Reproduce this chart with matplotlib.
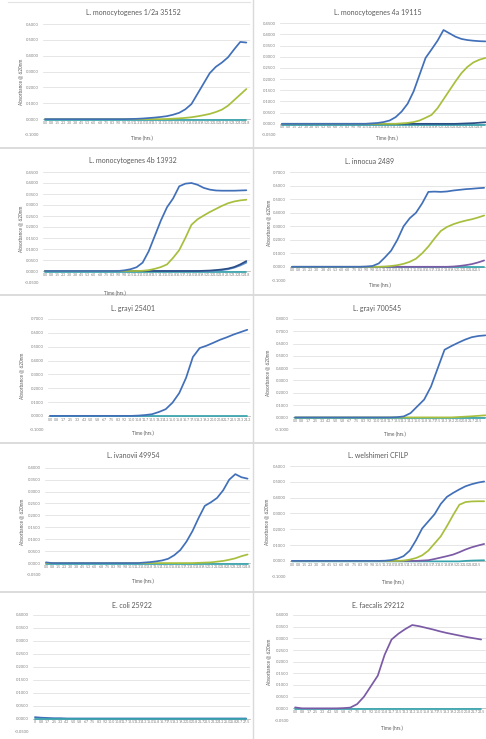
"""Growth curves (absorbance @ 620nm) for ten strains, laid out as a 5x2 grid."""

import matplotlib

matplotlib.use("Agg")
import matplotlib.pyplot as plt
import numpy as np
from matplotlib.lines import Line2D

plt.rcParams["font.family"] = ["Lato", "DejaVu Sans"]

W, H = 486, 739

# category labels (time points)
HRS_45 = ["0.0", "0.8", "1.5", "2.3", "3.0", "3.8", "4.5", "5.3", "6.0", "6.8",
          "7.5", "8.3", "9.0", "9.8", "10.5", "11.3", "12.0", "12.8", "13.5", "14.3",
          "15.0", "15.8", "16.5", "17.3", "18.0", "18.8", "19.5", "20.3", "21.0", "21.8",
          "22.5", "23.3", "24.0", "24.8", "25.5"]
HRS_50 = ["0.0", "0.8", "1.7", "2.5", "3.3", "4.2", "5.0", "5.8", "6.7", "7.5",
          "8.3", "9.2", "10.0", "10.8", "11.7", "12.5", "13.3", "14.2", "15.0", "15.8",
          "16.7", "17.5", "18.3", "19.2", "20.0", "20.8", "21.7", "22.5", "23.3", "24.2"]
HRS_ECOLI = ["0", "0.8", "1.7", "2.5", "3.3", "4.2", "5.0", "5.8", "6.7", "7.5",
             "8.3", "9.2", "10.0", "10.8", "11.7", "12.5", "13.3", "14.2", "15.0", "15.8",
             "16.7", "17.5", "18.3", "19.2", "20.0", "20.8", "21.7", "22.5", "23.3", "24.2",
             "25.0", "25.8", "26.7", "27.5"]

# L. monocytogenes 1/2a 35152
LM12A_BLUE = [0.000, 0.000, 0.000, 0.000, 0.000, 0.000, 0.000, 0.000, 0.000, 0.000,
              0.000, 0.000, 0.000, 0.000, 0.001, 0.002, 0.004, 0.007, 0.010, 0.014,
              0.019, 0.028, 0.040, 0.062, 0.095, 0.160, 0.225, 0.290, 0.330, 0.357,
              0.390, 0.440, 0.487, 0.483]
LM12A_GREEN = [0.000, 0.000, 0.000, 0.000, 0.000, 0.000, 0.000, 0.000, 0.000, 0.000,
               0.000, 0.000, 0.000, 0.000, 0.000, 0.000, 0.000, 0.000, 0.000, 0.000,
               0.001, 0.003, 0.005, 0.008, 0.012, 0.018, 0.025, 0.033, 0.045, 0.060,
               0.085, 0.120, 0.155, 0.190]
LM12A_TEAL = [-0.004, -0.004, -0.004, -0.004, -0.004, -0.004, -0.004, -0.004, -0.004, -0.004,
              -0.004, -0.004, -0.004, -0.004, -0.004, -0.004, -0.004, -0.004, -0.004, -0.004,
              -0.004, -0.004, -0.004, -0.004, -0.004, -0.004, -0.004, -0.004, -0.004, -0.004,
              -0.004, -0.004, -0.004, -0.004]

# L. monocytogenes 4a 19115
LM4A_BLUE = [0.000, 0.000, 0.000, 0.000, 0.000, 0.000, 0.000, 0.000, 0.000, 0.000,
             0.000, 0.000, 0.000, 0.000, 0.000, 0.002, 0.004, 0.008, 0.015, 0.030,
             0.055, 0.090, 0.145, 0.220, 0.295, 0.333, 0.372, 0.420, 0.405, 0.390,
             0.380, 0.375, 0.372, 0.370, 0.369]
LM4A_GREEN = [0.000, 0.000, 0.000, 0.000, 0.000, 0.000, 0.000, 0.000, 0.000, 0.000,
              0.000, 0.000, 0.000, 0.000, 0.000, 0.000, 0.000, 0.000, 0.000, 0.000,
              0.002, 0.004, 0.008, 0.015, 0.027, 0.040, 0.070, 0.110, 0.150, 0.190,
              0.227, 0.255, 0.275, 0.287, 0.295]
LM4A_NAVY = [0.000, 0.000, 0.000, 0.000, 0.000, 0.000, 0.000, 0.000, 0.000, 0.000,
             0.000, 0.000, 0.000, 0.000, 0.000, 0.000, 0.000, 0.000, 0.000, 0.000,
             0.000, 0.000, 0.000, 0.000, 0.000, 0.000, 0.000, 0.000, 0.000, 0.000,
             0.001, 0.002, 0.003, 0.005, 0.007]
LM4A_TEAL = [-0.003, -0.003, -0.003, -0.003, -0.003, -0.003, -0.003, -0.003, -0.003, -0.003,
             -0.003, -0.003, -0.003, -0.003, -0.003, -0.003, -0.003, -0.003, -0.003, -0.003,
             -0.003, -0.003, -0.003, -0.003, -0.003, -0.003, -0.003, -0.003, -0.003, -0.003,
             -0.003, -0.003, -0.003, -0.003, -0.003]

# L. monocytogenes 4b 13932
LM4B_BLUE = [0.000, 0.000, 0.000, 0.000, 0.000, 0.000, 0.000, 0.000, 0.000, 0.000,
             0.000, 0.000, 0.000, 0.003, 0.008, 0.017, 0.038, 0.090, 0.160, 0.230,
             0.290, 0.330, 0.385, 0.397, 0.400, 0.392, 0.378, 0.370, 0.366, 0.365,
             0.365, 0.365, 0.366, 0.367]
LM4B_GREEN = [0.000, 0.000, 0.000, 0.000, 0.000, 0.000, 0.000, 0.000, 0.000, 0.000,
              0.000, 0.000, 0.000, 0.000, 0.000, 0.000, 0.001, 0.004, 0.010, 0.018,
              0.030, 0.060, 0.095, 0.150, 0.210, 0.235, 0.252, 0.268, 0.282, 0.296,
              0.308, 0.316, 0.321, 0.324]
LM4B_NAVY = [0.000, 0.000, 0.000, 0.000, 0.000, 0.000, 0.000, 0.000, 0.000, 0.000,
             0.000, 0.000, 0.000, 0.000, 0.000, 0.000, 0.000, 0.000, 0.000, 0.000,
             0.000, 0.000, 0.000, 0.000, 0.000, 0.000, 0.001, 0.002, 0.004, 0.007,
             0.011, 0.018, 0.030, 0.045]
LM4B_SKY = [0.000, 0.000, 0.000, 0.000, 0.000, 0.000, 0.000, 0.000, 0.000, 0.000,
            0.000, 0.000, 0.000, 0.000, 0.000, 0.000, 0.000, 0.000, 0.000, 0.000,
            0.000, 0.000, 0.000, 0.000, 0.000, 0.000, 0.000, 0.000, 0.002, 0.004,
            0.008, 0.015, 0.025, 0.038]
LM4B_TEAL = [-0.003, -0.003, -0.003, -0.003, -0.003, -0.003, -0.003, -0.003, -0.003, -0.003,
             -0.003, -0.003, -0.003, -0.003, -0.003, -0.003, -0.003, -0.003, -0.003, -0.003,
             -0.003, -0.003, -0.003, -0.003, -0.003, -0.003, -0.003, -0.003, -0.003, -0.003,
             -0.003, -0.003, -0.003, -0.003]

# L. innocua 2489
LINN_BLUE = [0.000, 0.000, 0.000, 0.000, 0.000, 0.000, 0.000, 0.000, 0.000, 0.000,
             0.000, 0.000, 0.002, 0.006, 0.025, 0.070, 0.120, 0.200, 0.300, 0.360,
             0.400, 0.470, 0.555, 0.557, 0.555, 0.558, 0.565, 0.570, 0.575, 0.578,
             0.582, 0.585]
LINN_GREEN = [0.000, 0.000, 0.000, 0.000, 0.000, 0.000, 0.000, 0.000, 0.000, 0.000,
              0.000, 0.000, 0.000, 0.000, 0.000, 0.002, 0.006, 0.012, 0.022, 0.037,
              0.060, 0.100, 0.150, 0.210, 0.265, 0.295, 0.315, 0.330, 0.342, 0.352,
              0.365, 0.380]
LINN_PURPLE = [0.000, 0.000, 0.000, 0.000, 0.000, 0.000, 0.000, 0.000, 0.000, 0.000,
               0.000, 0.000, 0.000, 0.000, 0.000, 0.000, 0.000, 0.000, 0.000, 0.000,
               0.000, 0.000, 0.000, 0.000, 0.000, 0.000, 0.002, 0.006, 0.012, 0.020,
               0.032, 0.047]
LINN_TEAL = [-0.004, -0.004, -0.004, -0.004, -0.004, -0.004, -0.004, -0.004, -0.004, -0.004,
             -0.004, -0.004, -0.004, -0.004, -0.004, -0.004, -0.004, -0.004, -0.004, -0.004,
             -0.004, -0.004, -0.004, -0.004, -0.004, -0.004, -0.004, -0.004, -0.004, -0.004,
             -0.004, -0.004]

# L. grayi 25401
LG25_BLUE = [0.000, 0.000, 0.000, 0.000, 0.000, 0.000, 0.000, 0.000, 0.000, 0.000,
             0.000, 0.000, 0.000, 0.002, 0.006, 0.012, 0.028, 0.048, 0.095, 0.165,
             0.275, 0.425, 0.490, 0.507, 0.528, 0.550, 0.568, 0.588, 0.605, 0.622]
LG25_TEAL = [-0.003, -0.003, -0.003, -0.003, -0.003, -0.003, -0.003, -0.003, -0.003, -0.003,
             -0.003, -0.003, -0.003, -0.003, -0.003, -0.003, -0.003, -0.003, -0.003, -0.003,
             -0.003, -0.003, -0.003, -0.003, -0.003, -0.003, -0.003, -0.003, -0.003, -0.003]

# L. grayi 700545
LG70_BLUE = [0.000, 0.000, 0.000, 0.000, 0.000, 0.000, 0.000, 0.000, 0.000, 0.000,
             0.000, 0.000, 0.000, 0.000, 0.000, 0.002, 0.008, 0.035, 0.090, 0.145,
             0.250, 0.400, 0.550, 0.580, 0.607, 0.632, 0.652, 0.662, 0.667]
LG70_GREEN = [0.000, 0.000, 0.000, 0.000, 0.000, 0.000, 0.000, 0.000, 0.000, 0.000,
              0.000, 0.000, 0.000, 0.000, 0.000, 0.000, 0.000, 0.000, 0.000, 0.000,
              0.000, 0.000, 0.000, 0.000, 0.003, 0.006, 0.009, 0.013, 0.017]
LG70_TEAL = [-0.003, -0.003, -0.003, -0.003, -0.003, -0.003, -0.003, -0.003, -0.003, -0.003,
             -0.003, -0.003, -0.003, -0.003, -0.003, -0.003, -0.003, -0.003, -0.003, -0.003,
             -0.003, -0.003, -0.003, -0.003, -0.003, -0.003, -0.003, -0.003, -0.003]

# L. ivanovii 49954
LIV_BLUE = [0.003, 0.000, 0.000, 0.000, 0.000, 0.000, 0.000, 0.000, 0.000, 0.000,
            0.000, 0.000, 0.000, 0.000, 0.000, 0.000, 0.002, 0.004, 0.007, 0.011,
            0.018, 0.033, 0.055, 0.090, 0.135, 0.190, 0.240, 0.255, 0.273, 0.305,
            0.350, 0.373, 0.360, 0.354]
LIV_GREEN = [0.000, 0.000, 0.000, 0.000, 0.000, 0.000, 0.000, 0.000, 0.000, 0.000,
             0.000, 0.000, 0.000, 0.000, 0.000, 0.000, 0.000, 0.000, 0.000, 0.000,
             0.000, 0.000, 0.000, 0.000, 0.000, 0.001, 0.002, 0.003, 0.006, 0.009,
             0.014, 0.020, 0.029, 0.036]
LIV_TEAL = [-0.003, -0.003, -0.003, -0.003, -0.003, -0.003, -0.003, -0.003, -0.003, -0.003,
            -0.003, -0.003, -0.003, -0.003, -0.003, -0.003, -0.003, -0.003, -0.003, -0.003,
            -0.003, -0.003, -0.003, -0.003, -0.003, -0.003, -0.003, -0.003, -0.003, -0.003,
            -0.003, -0.003, -0.003, -0.003]

# L. welshimeri CFILP
LW_BLUE = [0.000, 0.000, 0.000, 0.000, 0.000, 0.000, 0.000, 0.000, 0.000, 0.000,
           0.000, 0.000, 0.000, 0.000, 0.000, 0.001, 0.005, 0.014, 0.030, 0.065,
           0.130, 0.205, 0.250, 0.295, 0.360, 0.405, 0.430, 0.452, 0.472, 0.485,
           0.495, 0.502]
LW_GREEN = [0.000, 0.000, 0.000, 0.000, 0.000, 0.000, 0.000, 0.000, 0.000, 0.000,
            0.000, 0.000, 0.000, 0.000, 0.000, 0.000, 0.000, 0.000, 0.002, 0.008,
            0.018, 0.035, 0.065, 0.110, 0.155, 0.220, 0.290, 0.355, 0.372, 0.376,
            0.377, 0.377]
LW_PURPLE = [0.000, 0.000, 0.000, 0.000, 0.000, 0.000, 0.000, 0.000, 0.000, 0.000,
             0.000, 0.000, 0.000, 0.000, 0.000, 0.000, 0.000, 0.000, 0.000, 0.000,
             0.000, 0.002, 0.004, 0.012, 0.021, 0.030, 0.040, 0.055, 0.072, 0.086,
             0.097, 0.107]
LW_TEAL = [-0.003, -0.003, -0.003, -0.003, -0.003, -0.003, -0.003, -0.003, -0.003, -0.003,
           -0.003, -0.003, -0.003, -0.003, -0.003, -0.003, -0.003, -0.003, -0.003, -0.003,
           -0.003, -0.003, -0.003, -0.003, -0.003, -0.003, -0.003, -0.003, 0.000, 0.002,
           0.003, 0.004]

# E. coli 25922
EC_BLUE = [0.006, 0.004, 0.003, 0.002, 0.002, 0.001, 0.001, 0.001, 0.001, 0.001,
           0.001, 0.001, 0.001, 0.001, 0.001, 0.001, 0.001, 0.001, 0.001, 0.001,
           0.001, 0.001, 0.001, 0.001, 0.001, 0.001, 0.001, 0.001, 0.001, 0.001,
           0.001, 0.001, 0.001, 0.001]
EC_TEAL = [-0.002, -0.002, -0.002, -0.002, -0.002, -0.002, -0.002, -0.002, -0.002, -0.002,
           -0.002, -0.002, -0.002, -0.002, -0.002, -0.002, -0.002, -0.002, -0.002, -0.002,
           -0.002, -0.002, -0.002, -0.002, -0.002, -0.002, -0.002, -0.002, -0.002, -0.002,
           -0.002, -0.002, -0.002, -0.002]

# E. faecalis 29212
EF_PURPLE = [0.004, 0.000, 0.000, 0.000, 0.000, 0.000, 0.000, 0.001, 0.003, 0.018,
             0.050, 0.095, 0.140, 0.230, 0.295, 0.320, 0.340, 0.357, 0.352, 0.345,
             0.338, 0.330, 0.323, 0.317, 0.311, 0.305, 0.300, 0.295]
EF_TEAL = [-0.002, -0.002, -0.002, -0.002, -0.002, -0.002, -0.002, -0.002, -0.002, -0.002,
           -0.002, -0.002, -0.002, -0.002, -0.002, -0.002, -0.002, -0.002, -0.002, -0.002,
           -0.002, -0.002, -0.002, -0.002, -0.002, -0.002, -0.002, -0.002]

BLUE = "#4170B9"
GREEN = "#A7BF3D"
PURPLE = "#7B5BA5"
TEAL = "#36A3AC"
NAVY = "#2C4E86"
SKY = "#5F90D0"
TXT = "#595959"
TICK = "#7F7F7F"
GRID = "#DCDCDC"

YLABEL = "Absorbance @ 620nm"
XLABEL = "Time (hrs.)"

# layout in pixels: box = (left, right, top, bottom) of the plot area
PANELS = [
    dict(title="L. monocytogenes 1/2a 35152", cats=HRS_45, ylim=(-0.1, 0.6, 0.1),
         box=(43, 250, 24, 135), xlim=(-0.33, 33.6), title_xy=(133, 13),
         ylab_xy=(21, 82), xlab_xy=(142, 138),
         series=[(LM12A_TEAL, TEAL), (LM12A_GREEN, GREEN), (LM12A_BLUE, BLUE)]),
    dict(title="L. monocytogenes 4a 19115", cats=HRS_45, ylim=(-0.05, 0.45, 0.05),
         box=(280, 486, 23.3, 135), xlim=(-0.33, 34.1), title_xy=(378, 13),
         ylab_xy=None, xlab_xy=(387, 138),
         series=[(LM4A_TEAL, TEAL), (LM4A_NAVY, NAVY), (LM4A_GREEN, GREEN), (LM4A_BLUE, BLUE)]),
    dict(title="L. monocytogenes 4b 13932", cats=HRS_45, ylim=(-0.05, 0.45, 0.05),
         box=(43, 250, 172, 282), xlim=(-0.33, 33.6), title_xy=(133, 161),
         ylab_xy=(21, 229), xlab_xy=(115, 293),
         series=[(LM4B_TEAL, TEAL), (LM4B_SKY, SKY), (LM4B_NAVY, NAVY),
                 (LM4B_GREEN, GREEN), (LM4B_BLUE, BLUE)]),
    dict(title="L. innocua 2489", cats=HRS_45, ylim=(-0.1, 0.7, 0.1),
         box=(290, 486, 172.3, 280.3), xlim=(-0.32, 31.3), title_xy=(370, 161),
         ylab_xy=(269, 223), xlab_xy=(380, 285),
         series=[(LINN_TEAL, TEAL), (LINN_PURPLE, PURPLE), (LINN_GREEN, GREEN), (LINN_BLUE, BLUE)]),
    dict(title="L. grayi 25401", cats=HRS_50, ylim=(-0.1, 0.7, 0.1),
         box=(48, 250, 319, 429.7), xlim=(-0.3, 29.4), title_xy=(133, 308),
         ylab_xy=(22, 376), xlab_xy=(143, 433),
         series=[(LG25_TEAL, TEAL), (LG25_BLUE, BLUE)]),
    dict(title="L. grayi 700545", cats=HRS_50, ylim=(-0.1, 0.8, 0.1),
         box=(293, 486, 319, 429.7), xlim=(-0.3, 28.1), title_xy=(377, 308),
         ylab_xy=(268, 373), xlab_xy=(395, 434),
         series=[(LG70_TEAL, TEAL), (LG70_GREEN, GREEN), (LG70_BLUE, BLUE)]),
    dict(title="L. ivanovii 49954", cats=HRS_45, ylim=(-0.05, 0.4, 0.05),
         box=(45, 250, 467.7, 575), xlim=(-0.16, 33.4), title_xy=(133, 455),
         ylab_xy=(22, 522), xlab_xy=(143, 581),
         series=[(LIV_TEAL, TEAL), (LIV_GREEN, GREEN), (LIV_BLUE, BLUE)]),
    dict(title="L. welshimeri CFILP", cats=HRS_45, ylim=(-0.1, 0.6, 0.1),
         box=(290, 486, 466, 576.7), xlim=(-0.32, 31.3), title_xy=(378, 455),
         ylab_xy=(267, 522), xlab_xy=(393, 582),
         series=[(LW_TEAL, TEAL), (LW_PURPLE, PURPLE), (LW_GREEN, GREEN), (LW_BLUE, BLUE)]),
    dict(title="E. coli 25922", cats=HRS_ECOLI, ylim=(-0.05, 0.4, 0.05),
         box=(33, 250, 615, 731.7), xlim=(-0.3, 33.6), title_xy=(132, 605),
         ylab_xy=None, xlab_xy=None,
         series=[(EC_BLUE, BLUE), (EC_TEAL, TEAL)]),
    dict(title="E. faecalis 29212", cats=HRS_50, ylim=(-0.05, 0.4, 0.05),
         box=(293, 486, 615, 720), xlim=(-0.3, 27.7), title_xy=(378, 605),
         ylab_xy=(269, 662), xlab_xy=(392, 728),
         series=[(EF_TEAL, TEAL), (EF_PURPLE, PURPLE)]),
]


def fx(px):
    return px / W


def fy(py):
    return 1 - py / H


def draw_panel(fig, p):
    left, right, top, bottom = p["box"]
    ax = fig.add_axes([fx(left), fy(bottom), (right - left) / W, (bottom - top) / H])
    ymin, ymax, ystep = p["ylim"]
    yt = np.round(np.arange(ymin, ymax + ystep / 2, ystep), 4)
    ax.set_ylim(ymin, ymax)
    ax.set_yticks(yt)
    ax.set_yticklabels([f"{v:.4f}" if v != 0 else "0.0000" for v in yt])
    ax.set_xlim(*p["xlim"])
    # only label categories whose text fits inside the visible plot area
    n = min(len(p["cats"]), int(p["xlim"][1] - 0.4) + 1)
    ax.set_xticks(range(n))
    ax.set_xticklabels(p["cats"][:n], rotation=90)
    ax.tick_params(axis="x", length=0, pad=1.2, labelsize=2.6, labelcolor=TICK)
    ax.tick_params(axis="y", length=0, pad=3, labelsize=3.0, labelcolor=TICK)
    ax.yaxis.grid(True, color=GRID, lw=0.5)
    ax.set_axisbelow(True)
    for s in ("top", "right", "left"):
        ax.spines[s].set_visible(False)
    ax.spines["bottom"].set_position(("data", 0))
    ax.spines["bottom"].set_color("#BFBFBF")
    ax.spines["bottom"].set_linewidth(0.6)
    ax.patch.set_alpha(0)
    for values, color in p["series"]:
        ax.plot(range(len(values)), values, color=color, lw=1.25,
                solid_joinstyle="round", solid_capstyle="round", zorder=3)

    tx, ty = p["title_xy"]
    fig.text(fx(tx), fy(ty), p["title"], ha="center", va="center", fontsize=5, color=TXT)
    if p["ylab_xy"]:
        lx, ly = p["ylab_xy"]
        fig.text(fx(lx), fy(ly), YLABEL, ha="center", va="center", rotation=90,
                 fontsize=3.4, color=TXT)
    if p["xlab_xy"]:
        lx, ly = p["xlab_xy"]
        fig.text(fx(lx), fy(ly), XLABEL, ha="center", va="center", fontsize=3.4, color=TXT)


fig = plt.figure(figsize=(W / 100, H / 100), dpi=100)
fig.patch.set_facecolor("white")

# light frames between the charts
for yy in (148, 295, 443, 592):
    fig.add_artist(Line2D([0, 1], [fy(yy), fy(yy)], color="#D6D6D6", lw=1.2))
fig.add_artist(Line2D([fx(253), fx(253)], [0, 1], color="#DADADA", lw=1.0))
fig.add_artist(Line2D([fx(8), fx(250)], [fy(2), fy(2)], color="#E3E3E3", lw=0.8))

for panel in PANELS:
    draw_panel(fig, panel)

fig.savefig("out.png", dpi=100)
